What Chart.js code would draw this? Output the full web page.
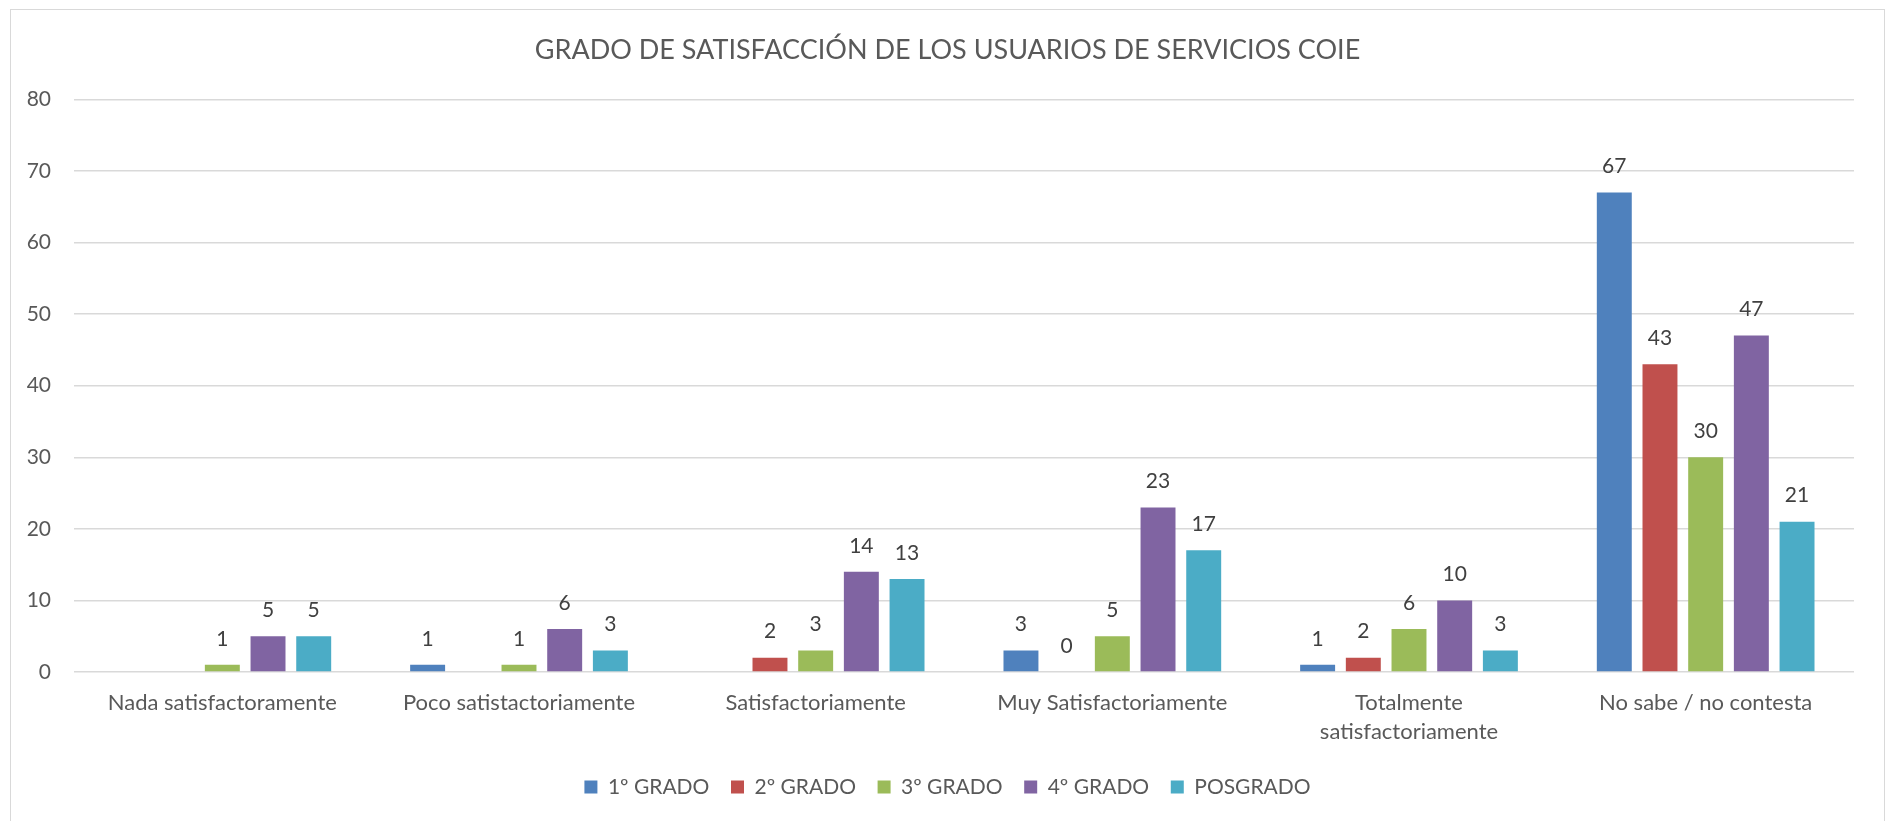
<!DOCTYPE html>
<html>
<head>
<meta charset="utf-8">
<script src="https://cdn.jsdelivr.net/npm/chart.js@4.4.1/dist/chart.umd.min.js"></script>
<style>
  html, body { margin: 0; padding: 0; background: #ffffff; }
  #wrap { position: relative; width: 1887px; height: 821px; }
  canvas { display: block; }
</style>
</head>
<body>
<div id="wrap"><canvas id="c" width="1887" height="821"></canvas></div>
<script>
const chartTitle = 'GRADO DE SATISFACCIÓN DE LOS USUARIOS DE SERVICIOS COIE';
const categories = [
  'Nada satisfactoramente',
  'Poco satistactoriamente',
  'Satisfactoriamente',
  'Muy Satisfactoriamente',
  ['Totalmente', 'satisfactoriamente'],
  'No sabe / no contesta'
];
const seriesNames = ['1º GRADO', '2º GRADO', '3º GRADO', '4º GRADO', 'POSGRADO'];
const grado1 = [null, 1, null, 3, 1, 67];
const grado2 = [null, null, 2, 0, 2, 43];
const grado3 = [1, 1, 3, 5, 6, 30];
const grado4 = [5, 6, 14, 23, 10, 47];
const posgrado = [5, 3, 13, 17, 3, 21];
const yMin = 0, yMax = 80, yStep = 10;

const seriesColors = ['#4F81BD', '#C0504D', '#9BBB59', '#8064A2', '#4BACC6'];
const seriesValues = [grado1, grado2, grado3, grado4, posgrado];

const FONT = 'Lato';
const TEXT = '#595959';

const valueLabels = {
  id: 'valueLabels',
  afterDatasetsDraw(chart) {
    const ctx = chart.ctx;
    ctx.save();
    ctx.font = '21px ' + FONT;
    ctx.fillStyle = '#404040';
    ctx.textAlign = 'center';
    ctx.textBaseline = 'middle';
    chart.data.datasets.forEach((ds, i) => {
      const meta = chart.getDatasetMeta(i);
      meta.data.forEach((el, j) => {
        const v = ds.data[j];
        if (v === null || v === undefined) return;
        ctx.fillText(String(v), el.x, el.y - 26);
      });
    });
    ctx.restore();
  }
};

const frame = {
  id: 'frame',
  beforeDraw(chart) {
    const ctx = chart.ctx;
    ctx.save();
    ctx.fillStyle = '#ffffff';
    ctx.fillRect(0, 0, chart.width, chart.height);
    ctx.strokeStyle = '#D9D9D9';
    ctx.lineWidth = 1;
    ctx.strokeRect(10.5, 9.5, 1874, 840);
    ctx.restore();
  }
};

new Chart(document.getElementById('c'), {
  type: 'bar',
  data: {
    labels: categories,
    datasets: seriesNames.map((name, i) => ({
      label: name,
      data: seriesValues[i],
      backgroundColor: seriesColors[i],
      borderWidth: 0,
      categoryPercentage: 0.77,
      barPercentage: 0.765
    }))
  },
  options: {
    responsive: false,
    animation: false,
    devicePixelRatio: 1,
    layout: { padding: { left: 8, right: 0, top: 0, bottom: 13.5 } },
    plugins: {
      title: {
        display: true,
        text: chartTitle,
        color: TEXT,
        font: { family: FONT, size: 27, weight: 'normal' },
        padding: { top: 34, bottom: 33 }
      },
      legend: {
        display: true,
        position: 'bottom',
        labels: {
          color: TEXT,
          font: { family: FONT, size: 21 },
          boxWidth: 13,
          boxHeight: 13,
          padding: 21.6
        }
      },
      tooltip: { enabled: false }
    },
    scales: {
      x: {
        grid: { display: false, drawTicks: false },
        border: { display: false },
        ticks: {
          color: TEXT,
          font: { family: FONT, size: 22, lineHeight: 1.33 },
          padding: 16,
          maxRotation: 0,
          autoSkip: false
        },
        afterFit(scale) { scale.height = 82.9; }
      },
      y: {
        min: yMin,
        max: yMax,
        grid: { color: '#D9D9D9', lineWidth: 1.5, drawTicks: false },
        border: { display: false },
        ticks: {
          stepSize: yStep,
          color: TEXT,
          font: { family: FONT, size: 21 },
          padding: 23
        },
        afterFit(scale) { scale.width = 66; }
      },
      yRight: {
        position: 'right',
        display: true,
        min: yMin,
        max: yMax,
        grid: { display: false, drawTicks: false },
        border: { display: false },
        ticks: { display: false },
        afterFit(scale) { scale.width = 33; }
      }
    }
  },
  plugins: [frame, valueLabels]
});
</script>
</body>
</html>
